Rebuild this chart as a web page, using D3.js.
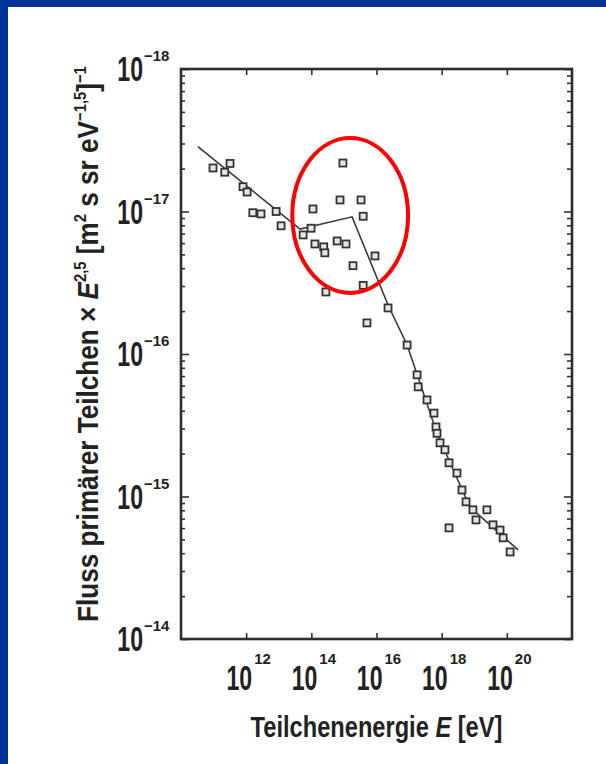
<!DOCTYPE html>
<html>
<head>
<meta charset="utf-8">
<script src="https://cdn.jsdelivr.net/npm/d3@7"></script>
<style>
  html, body { margin: 0; padding: 0; background: #fff; }
  svg { display: block; }
  text { font-family: "Liberation Sans", Arial, sans-serif; fill: #222; }
</style>
</head>
<body>
<svg id="chart" width="606" height="764"></svg>
<script>
// measured points: particle energy E [eV] and flux x E^2.5 (as the axis is labelled)
const pointEnergy = [9.6e10, 2.2e11, 3.2e11, 8.0e11, 1.07e12, 1.6e12, 2.85e12, 8.3e12, 1.18e13,
  1.12e14, 5.6e13, 9.8e13, 1.29e14, 2.4e14, 2.6e14, 6.2e14, 1.16e15, 9.3e14, 7.6e14, 3.35e15,
  3.9e15, 1.9e15, 9.0e15, 3.9e15, 2.8e14, 2.26e16, 5.1e15, 8.7e16, 1.76e17, 1.9e17, 3.55e17,
  5.8e17, 6.7e17, 7.2e17, 8.9e17, 1.26e18, 1.68e18, 2.95e18, 4.2e18, 5.6e18, 9.1e18, 2.45e19,
  1.13e19, 3.76e19, 6.2e19, 7.7e19, 1.26e20, 1.68e18];
const pointFlux = [4.95e-18, 5.3e-18, 4.6e-18, 6.7e-18, 7.3e-18, 1.02e-17, 1.04e-17, 1.0e-17, 1.26e-17,
  9.6e-18, 1.46e-17, 1.31e-17, 1.69e-17, 1.77e-17, 1.95e-17, 1.61e-17, 1.69e-17, 4.57e-18, 8.3e-18, 8.3e-18,
  1.08e-17, 2.4e-17, 2.05e-17, 3.3e-17, 3.67e-17, 4.75e-17, 6.05e-17, 8.65e-17, 1.4e-16, 1.7e-16, 2.1e-16,
  2.6e-16, 3.25e-16, 3.6e-16, 4.2e-16, 4.7e-16, 5.8e-16, 6.85e-16, 9.0e-16, 1.09e-15, 1.24e-15, 1.24e-15,
  1.46e-15, 1.58e-15, 1.72e-15, 1.95e-15, 2.45e-15, 1.66e-15];

// fitted curve through the spectrum
const fitEnergy = [3.3e10, 4.5e13, 1.78e15, 2.26e16, 8.7e16, 7.2e17, 7.4e18, 3.05e19, 2.2e20];
const fitFlux = [3.5e-18, 1.33e-17, 1.09e-17, 4.53e-17, 8.65e-17, 3.6e-16, 1.19e-15, 1.58e-15, 2.37e-15];

// red ellipse around the knee region (energy and flux extent)
const kneeEnergy = [2.6e13, 9.3e16];
const kneeFlux = [3.05e-18, 3.73e-17];

const xTickExp = [12, 14, 16, 18, 20];
const yTickExp = [-18, -17, -16, -15, -14];

const xTitle = "Teilchenenergie ";
const yTitle = "Fluss primärer Teilchen × ";

const svg = d3.select("#chart");
const plot = {left: 181, right: 572, top: 69, bottom: 639};

// blue slide border
svg.append("rect").attr("x", 0).attr("y", 0).attr("width", 606).attr("height", 7).attr("fill", "#003399");
svg.append("rect").attr("x", 0).attr("y", 0).attr("width", 8).attr("height", 764).attr("fill", "#003399");

const x = d3.scaleLog().domain([1e10, 1e22]).range([plot.left, plot.right]);
const y = d3.scaleLog().domain([1e-18, 1e-14]).range([plot.top, plot.bottom]);

// minor ticks, placed the way the printed axis has them
const yMinor = [];
yTickExp.slice(0, -1).forEach(n => {
  d3.range(2, 10).forEach(k => yMinor.push(Math.pow(10, n + 1) / k));
});

const tickStyle = g => {
  g.select(".domain").remove();
  g.selectAll(".tick line").attr("stroke", "#333").attr("stroke-width", 1.6);
};

svg.append("g").attr("transform", `translate(0,${plot.bottom})`)
  .call(d3.axisBottom(x).tickValues(xTickExp.map(e => Math.pow(10, e))).tickSize(-6).tickFormat(""))
  .call(tickStyle);
svg.append("g").attr("transform", `translate(0,${plot.top})`)
  .call(d3.axisTop(x).tickValues(xTickExp.map(e => Math.pow(10, e))).tickSize(-6).tickFormat(""))
  .call(tickStyle);
svg.append("g").attr("transform", `translate(${plot.left},0)`)
  .call(d3.axisLeft(y).tickValues(yTickExp.map(e => Math.pow(10, e))).tickSize(-8).tickFormat(""))
  .call(tickStyle);
svg.append("g").attr("transform", `translate(${plot.left},0)`)
  .call(d3.axisLeft(y).tickValues(yMinor).tickSize(-4).tickFormat(""))
  .call(tickStyle);
svg.append("g").attr("transform", `translate(${plot.right},0)`)
  .call(d3.axisRight(y).tickValues(yTickExp.map(e => Math.pow(10, e))).tickSize(-8).tickFormat(""))
  .call(tickStyle);
svg.append("g").attr("transform", `translate(${plot.right},0)`)
  .call(d3.axisRight(y).tickValues(yMinor).tickSize(-5).tickFormat(""))
  .call(tickStyle);

// frame
svg.append("rect")
  .attr("x", x.range()[0]).attr("y", y.range()[0])
  .attr("width", x.range()[1] - x.range()[0]).attr("height", y.range()[1] - y.range()[0])
  .attr("fill", "none").attr("stroke", "#2e2e2e").attr("stroke-width", 2.6);

// tick labels: condensed bold "10" plus superscript exponent
xTickExp.forEach(e => {
  const px = x(Math.pow(10, e));
  svg.append("g").attr("transform", `translate(${px + 6},690) scale(0.66,1)`)
    .append("text").attr("text-anchor", "end").attr("font-size", 35)
    .attr("font-weight", "bold").text("10");
  svg.append("text").attr("x", px + 8).attr("y", 664).attr("font-size", 15)
    .attr("font-weight", "bold").text(e);
});
yTickExp.forEach(e => {
  const py = y(Math.pow(10, e));
  svg.append("g").attr("transform", `translate(143,${py + 12}) scale(0.66,1)`)
    .append("text").attr("text-anchor", "end").attr("font-size", 35)
    .attr("font-weight", "bold").text("10");
  svg.append("text").attr("x", 144).attr("y", py - 8).attr("font-size", 15)
    .attr("font-weight", "bold").text("\u2212" + Math.abs(e));
});

// fitted line
const line = d3.line().x(d => x(d[0])).y(d => y(d[1]));
svg.append("path")
  .datum(fitEnergy.map((e, i) => [e, fitFlux[i]]))
  .attr("d", line)
  .attr("fill", "none").attr("stroke", "#3a3a3a").attr("stroke-width", 1.6);

// data squares
svg.append("g").selectAll("rect")
  .data(pointEnergy.map((e, i) => [e, pointFlux[i]]))
  .join("rect")
  .attr("x", d => x(d[0]) - 3.5).attr("y", d => y(d[1]) - 3.5)
  .attr("width", 7).attr("height", 7)
  .attr("fill", "#e6e6e6").attr("stroke", "#333").attr("stroke-width", 1.8);

// knee ellipse
const ex = kneeEnergy.map(x), ey = kneeFlux.map(y);
svg.append("ellipse")
  .attr("cx", (ex[0] + ex[1]) / 2).attr("cy", (ey[0] + ey[1]) / 2)
  .attr("rx", (ex[1] - ex[0]) / 2).attr("ry", (ey[1] - ey[0]) / 2)
  .attr("fill", "none").attr("stroke", "#ff0000").attr("stroke-width", 4);

// squeeze a title horizontally so it spans the given length
function squeeze(g, text, len) {
  const w = text.node().getBBox().width;
  g.attr("transform", g.attr("transform") + ` scale(${len / w},1)`);
}

// axis titles
const xg = svg.append("g").attr("transform", `translate(${(plot.left + plot.right) / 2},737)`);
const xt = xg.append("text").attr("text-anchor", "middle").attr("font-size", 30).attr("font-weight", "bold");
xt.append("tspan").text(xTitle);
xt.append("tspan").attr("font-style", "italic").text("E");
xt.append("tspan").text(" [eV]");
squeeze(xg, xt, 252);

const yg = svg.append("g").attr("transform", "translate(98,622) rotate(-90)");
const yt = yg.append("text").attr("font-size", 30).attr("font-weight", "bold");
yt.append("tspan").text(yTitle);
yt.append("tspan").attr("font-style", "italic").text("E");
yt.append("tspan").attr("dy", -12).attr("font-size", 17).text("2,5");
yt.append("tspan").attr("dy", 12).text(" [m");
yt.append("tspan").attr("dy", -12).attr("font-size", 17).text("2");
yt.append("tspan").attr("dy", 12).text(" s sr eV");
yt.append("tspan").attr("dy", -12).attr("font-size", 17).text("\u22121,5");
yt.append("tspan").attr("dy", 12).text("]");
yt.append("tspan").attr("dy", -12).attr("font-size", 17).text("\u22121");
squeeze(yg, yt, 556);
</script>
</body>
</html>
